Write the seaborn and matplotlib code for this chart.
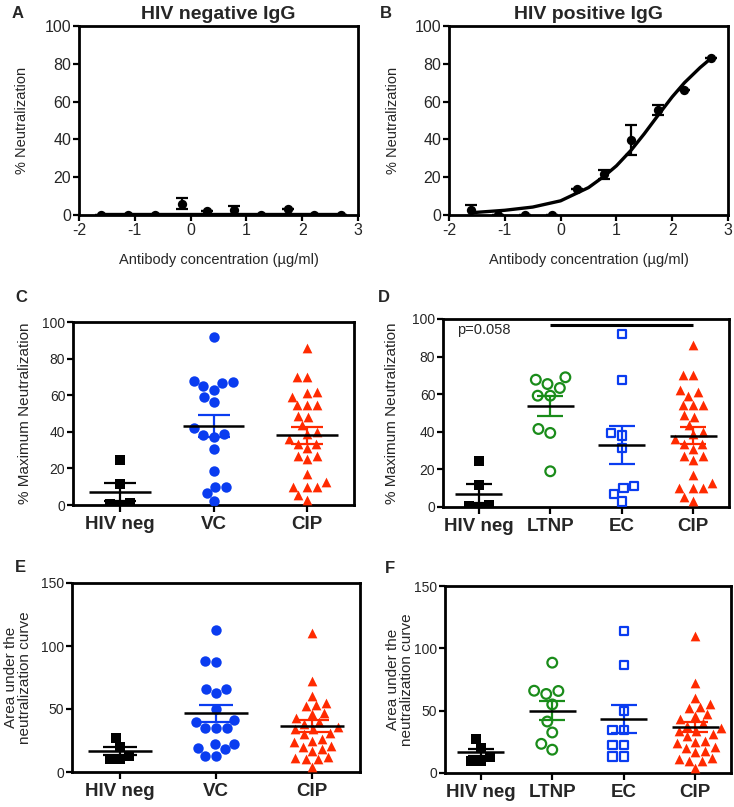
import numpy as np
import pandas as pd
import seaborn as sns
import matplotlib.pyplot as plt

W, H = 734, 807

# Panels A/B: neutralization vs log10 antibody concentration
log_conc = [-1.6, -1.12, -0.64, -0.16, 0.3, 0.78, 1.26, 1.74, 2.22, 2.7]
neg_neut = [0, 0, 0, 6, 2, 2.5, 0, 3, 0, 0]
neg_sem = [0, 0, 0, 3, 0, 2.5, 0, 0, 0, 0]
pos_neut = [2.5, 0, 0, 0, 14, 21.5, 39.5, 55.5, 66, 83]
pos_sem = [3, 0, 0, 0, 0, 2.5, 8, 2.5, 0, 0]
neg_fit_x = [-1.6, 2.7]
neg_fit_y = [0.4, 0.4]
pos_fit_x = [-1.6, -1.0, -0.5, 0.0, 0.5, 0.78, 1.0, 1.27, 1.5, 1.74, 2.0, 2.22, 2.5, 2.7]
pos_fit_y = [1.2, 2.5, 4.2, 7.5, 14.5, 20.5, 26, 34.5, 43, 52.5, 62.5, 70, 78, 83]

# Panels C/D: % maximum neutralization
max_hivneg = [24.5, 11.5, 1, 0.5, 0]
max_vc = [92, 67, 65, 66.5, 68, 63, 59, 56.5, 42, 39, 38.5, 37, 30.5, 18.5, 10, 10, 6.5, 2]
max_cip = [86, 70, 70, 62, 61, 59, 54.5, 54.5, 54.5, 48.7, 48, 43.6, 40, 39, 36, 33.6,
           33.6, 31, 27, 27, 25, 17, 12.7, 10, 10, 10, 5.5, 3]
max_ltnp = [67.7, 69, 65.4, 63.3, 59.2, 59.2, 41.5, 39.4, 19]
max_ec = [92, 67.7, 39.4, 38, 31.4, 11, 10, 7, 3]

# Panels E/F: area under the neutralization curve
auc_hivneg = [27, 20, 13, 10, 10]
auc_vc = [113, 88, 87, 66, 66, 63, 50, 41, 40, 35, 35, 35, 22, 22, 19, 18, 13, 13]
auc_cip = [110, 72, 60, 55, 53, 52, 47, 46, 43, 40, 38, 36, 34, 34, 31, 30, 26, 25, 24,
           21, 20, 18, 17, 12, 11, 10, 10, 4]
auc_ltnp = [88.5, 65.8, 66, 63.4, 55, 41.3, 32.5, 23.4, 18.7]
auc_ec = [114, 86.6, 50, 34.6, 34.6, 22.6, 22.6, 13.3, 13.3]

# mean +/- SEM as shown
mean_c, sem_c = [7, 43, 38], [5, 6, 4.5]
mean_d, sem_d = [7, 53.5, 33, 38], [5, 5.3, 10, 4.5]
mean_e, sem_e = [16.5, 46.5, 36.6], [3, 7, 4.5]
mean_f, sem_f = [16.5, 50, 43.4, 36.8], [2.5, 7.6, 11.5, 4]

BLACK = "#000000"
BLUE = "#0a3cf0"
RED = "#ff2a00"
GREEN = "#1a8c1a"

style = {
    "HIV neg": dict(marker="s", color=BLACK, open=False, size=7),
    "VC": dict(marker="o", color=BLUE, open=False, size=7.5),
    "CIP": dict(marker="^", color=RED, open=False, size=7),
    "LTNP": dict(marker="o", color=GREEN, open=True, size=7),
    "EC": dict(marker="s", color=BLUE, open=True, size=6),
}

sns.set_style("ticks")
plt.rcParams["font.family"] = ["Liberation Sans", "DejaVu Sans"]
plt.rcParams["axes.unicode_minus"] = False

fig = plt.figure(figsize=(W / 100, H / 100), dpi=100)


def add_ax(left, right, top, bottom):
    return fig.add_axes([left / W, 1 - bottom / H, (right - left) / W, (bottom - top) / H])


def frame(ax, ticksize):
    for s in ax.spines.values():
        s.set_linewidth(2.0)
        s.set_color("black")
    ax.tick_params(axis="both", direction="out", length=4, width=1.6, labelsize=ticksize,
                   color="black", pad=1.5)


def curve_panel(ax, y, sem, fx, fy, title, ylabel_x):
    sns.lineplot(x=fx, y=fy, ax=ax, color="black", lw=2.4, sort=False)
    ax.errorbar(log_conc, y, yerr=sem, fmt="none", ecolor="black", elinewidth=1.6,
                capsize=4, capthick=1.6)
    sns.scatterplot(x=log_conc, y=y, ax=ax, color="black", s=45, linewidth=0, zorder=3)
    ax.set_xlim(-2, 3)
    ax.set_ylim(0, 100)
    ax.set_xticks([-2, -1, 0, 1, 2, 3])
    ax.set_yticks([0, 20, 40, 60, 80, 100])
    frame(ax, 11.5)
    ax.set_title(title, fontsize=14, fontweight="bold", pad=5)
    ax.set_xlabel("Antibody concentration (µg/ml)", fontsize=10.5)
    ax.set_ylabel("% Neutralization", fontsize=10.5)
    ax.xaxis.set_label_coords(0.5, -0.2)
    ax.yaxis.set_label_coords(ylabel_x, 0.5)


def dot_panel(ax, groups, values, means, sems, ylim, yticks, ylabel, ylabel_x, width_px):
    df = pd.concat([pd.DataFrame({"group": g, "value": v}) for g, v in zip(groups, values)])
    for g in groups:
        st = style[g]
        sub = df[df["group"] == g]
        if st["open"]:
            sns.swarmplot(data=sub, x="group", y="value", order=groups, ax=ax,
                          marker=st["marker"], size=st["size"], facecolor="none",
                          edgecolor=st["color"], color=st["color"], linewidth=1.6)
        else:
            sns.swarmplot(data=sub, x="group", y="value", order=groups, ax=ax,
                          marker=st["marker"], size=st["size"], color=st["color"],
                          linewidth=0)
    spacing = width_px / len(groups)
    cap = 0.35 * spacing / 2 / 1.389
    for i, g in enumerate(groups):
        ax.errorbar(i, means[i], yerr=sems[i], fmt="none", ecolor=style[g]["color"],
                    elinewidth=1.6, capsize=cap, capthick=1.6, zorder=4)
        ax.hlines(means[i], i - 0.33, i + 0.33, color="black", lw=1.8, zorder=5)
    ax.set_xlim(-0.5, len(groups) - 0.5)
    ax.set_ylim(*ylim)
    ax.set_yticks(yticks)
    frame(ax, 10)
    ax.tick_params(axis="x", labelsize=13.5, length=5, pad=3)
    for t in ax.get_xticklabels():
        t.set_fontweight("bold")
    ax.set_xlabel("")
    ax.set_ylabel(ylabel, fontsize=11, linespacing=1.0)
    ax.yaxis.set_label_coords(ylabel_x, 0.5)


axA = add_ax(79, 358, 26, 215)
curve_panel(axA, neg_neut, neg_sem, neg_fit_x, neg_fit_y, "HIV negative IgG", -0.18)
axB = add_ax(449, 728, 26, 215)
curve_panel(axB, pos_neut, pos_sem, pos_fit_x, pos_fit_y, "HIV positive IgG", -0.175)

axC = add_ax(73, 354, 322, 505)
dot_panel(axC, ["HIV neg", "VC", "CIP"], [max_hivneg, max_vc, max_cip], mean_c, sem_c,
          (0, 100), [0, 20, 40, 60, 80, 100], "% Maximum Neutralization", -0.145, 281)
axD = add_ax(443, 729, 319, 507)
dot_panel(axD, ["HIV neg", "LTNP", "EC", "CIP"], [max_hivneg, max_ltnp, max_ec, max_cip],
          mean_d, sem_d, (0, 100), [0, 20, 40, 60, 80, 100], "% Maximum Neutralization",
          -0.155, 286)
axD.hlines(97, 1, 3, color="black", lw=2.2)
axD.text(-0.3, 94, "p=0.058", fontsize=10.5, va="center", ha="left")

axE = add_ax(72, 360, 583, 772)
dot_panel(axE, ["HIV neg", "VC", "CIP"], [auc_hivneg, auc_vc, auc_cip], mean_e, sem_e,
          (0, 150), [0, 50, 100, 150], "Area under the\nneutralization curve", -0.14, 288)
axF = add_ax(445, 731, 586, 773)
dot_panel(axF, ["HIV neg", "LTNP", "EC", "CIP"], [auc_hivneg, auc_ltnp, auc_ec, auc_cip],
          mean_f, sem_f, (0, 150), [0, 50, 100, 150], "Area under the\nneutralization curve",
          -0.108, 286)

for lab, x, y in [("A", 12, 18), ("B", 380, 18), ("C", 15, 302), ("D", 378, 302),
                  ("E", 15, 572), ("F", 385, 573)]:
    fig.text(x / W, 1 - y / H, lab, fontsize=12, fontweight="bold", va="baseline")

fig.savefig("out.png", dpi=100)
